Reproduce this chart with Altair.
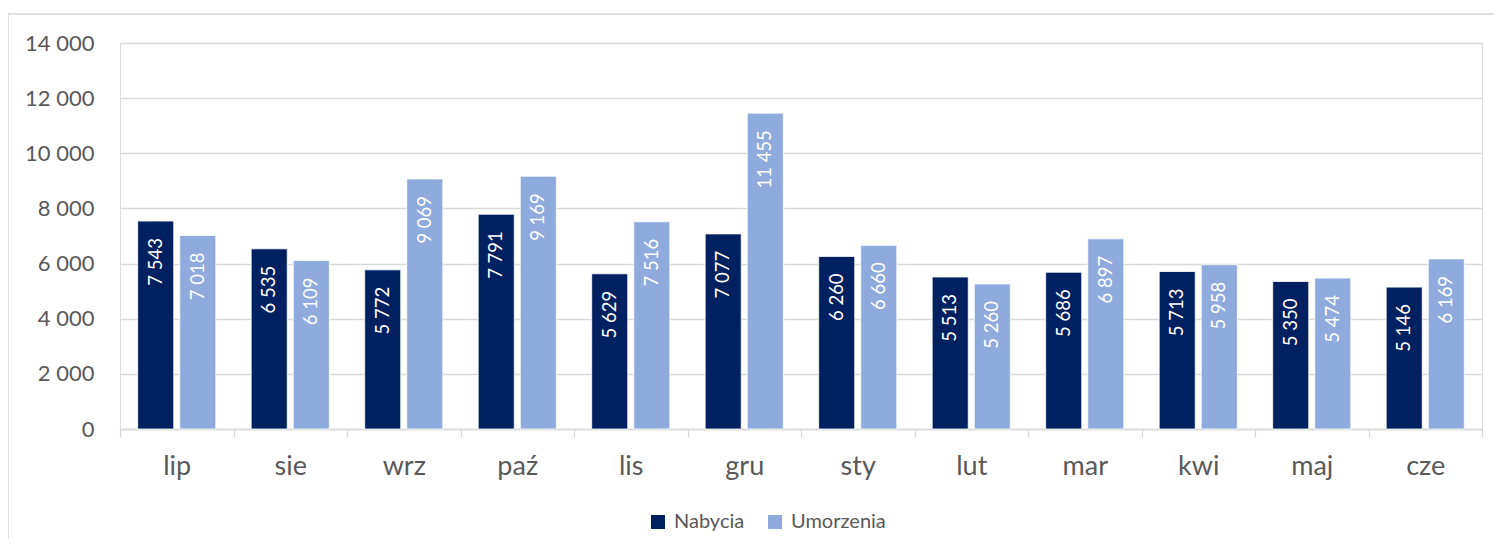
import altair as alt
import pandas as pd

months = ["lip", "sie", "wrz", "paź", "lis", "gru", "sty", "lut", "mar", "kwi", "maj", "cze"]
nabycia = [7543, 6535, 5772, 7791, 5629, 7077, 6260, 5513, 5686, 5713, 5350, 5146]
umorzenia = [7018, 6109, 9069, 9169, 7516, 11455, 6660, 5260, 6897, 5958, 5474, 6169]
series = ["Nabycia", "Umorzenia"]
colors = ["#002060", "#8FAADC"]

rows = []
for i, m in enumerate(months):
    for s, vals in zip(series, [nabycia, umorzenia]):
        v = vals[i]
        rows.append({"miesiac": m, "seria": s, "wartosc": v,
                     "etykieta": f"{v:,}".replace(",", " ")})
df = pd.DataFrame(rows)

FONT = "Lato"
W, H = 1362, 386

x_enc = alt.X("miesiac:N", sort=months, title=None,
              scale=alt.Scale(paddingInner=0, paddingOuter=0),
              axis=alt.Axis(labelAngle=0, labelFontSize=27, labelColor="#595959",
                            labelFont=FONT, domainColor="#d9d9d9", tickColor="#d9d9d9",
                            domainWidth=1.3, tickWidth=1.3,
                            tickSize=8, tickBand="extent", labelPadding=16, grid=False))
xoff = alt.XOffset("seria:N", sort=series,
                   scale=alt.Scale(paddingInner=0.143, paddingOuter=0.42))
y_enc = alt.Y("wartosc:Q", title=None,
              scale=alt.Scale(domain=[0, 14000], nice=False),
              axis=alt.Axis(values=list(range(0, 14001, 2000)),
                            labelExpr="replace(format(datum.value, ','), ',', ' ')",
                            labelFontSize=22, labelColor="#595959", labelFont=FONT,
                            labelPadding=26, ticks=False, domain=False,
                            gridColor="#d9d9d9", gridWidth=1.3))

base = alt.Chart(df)

bars = base.mark_bar(stroke="#ffffff", strokeWidth=0.8).encode(
    x=x_enc, xOffset=xoff, y=y_enc,
    color=alt.Color("seria:N", sort=series, title=None,
                    scale=alt.Scale(domain=series, range=colors),
                    legend=alt.Legend(orient="none", direction="horizontal",
                                      legendX=528, legendY=469,
                                      symbolType="square", symbolSize=196,
                                      symbolStrokeWidth=0,
                                      labelFontSize=20, labelColor="#595959",
                                      labelFont=FONT, columnPadding=20,
                                      labelOffset=6)),
)

labels = base.mark_text(angle=270, align="right", baseline="middle", dx=-17,
                        color="white", fontSize=18.5, font=FONT).encode(
    x=alt.X("miesiac:N", sort=months), xOffset=alt.XOffset("seria:N", sort=series),
    y=alt.Y("wartosc:Q"),
    text="etykieta:N",
)

frame = alt.Chart(pd.DataFrame({"a": [0]})).mark_rect(
    fill=None, stroke="#d9d9d9", strokeWidth=1.5, clip=False).encode(
    x=alt.value(-112), x2=alt.value(1400), y=alt.value(-29), y2=alt.value(540))

chart = alt.layer(frame, bars, labels).properties(
    width=W, height=H,
    padding={"left": 112, "top": 35, "right": 12, "bottom": 110},
    autosize=alt.AutoSizeParams(type="none"),
).configure_view(stroke=None).configure(font=FONT)

chart.save("out.html", embed_options={"renderer": "svg", "actions": False})
